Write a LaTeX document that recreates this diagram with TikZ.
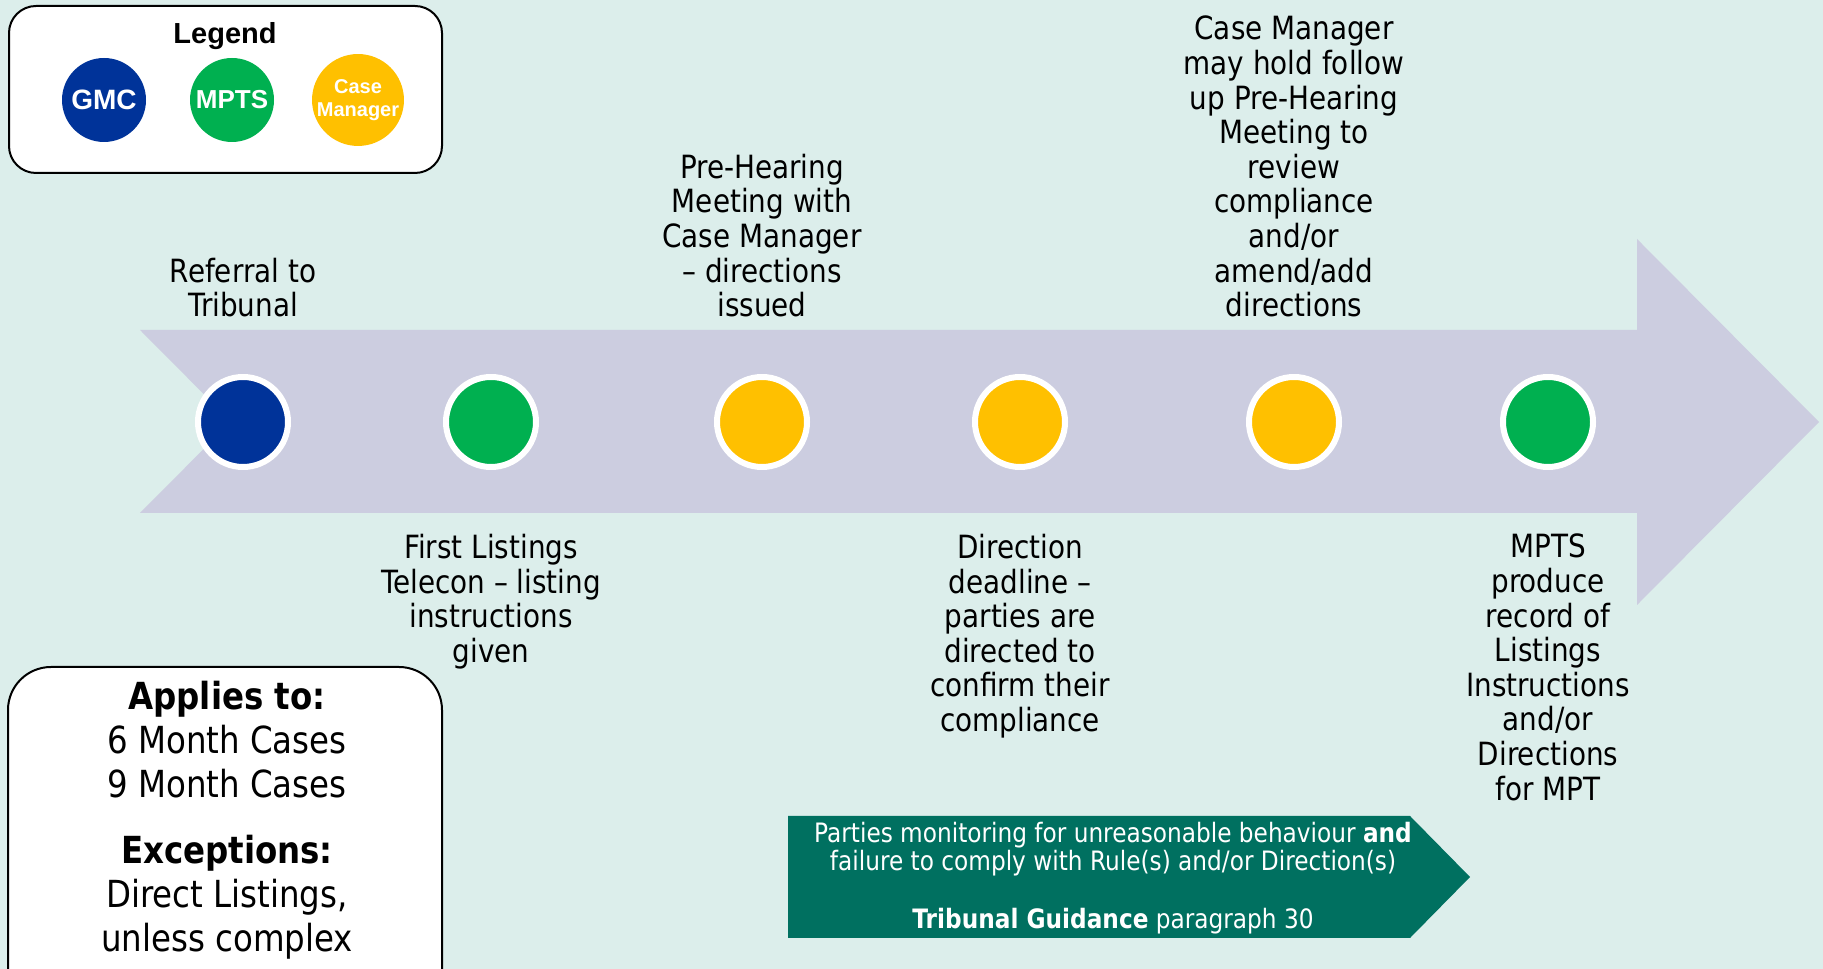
\documentclass[tikz,border=0pt]{standalone}
\usepackage{fontspec}
\setmainfont{Liberation Sans}
\newfontfamily\tahoma[FakeStretch=0.87]{DejaVu Sans}
\usepackage{tikz}

\definecolor{bgteal}{RGB}{220,238,235}
\definecolor{arrowgrey}{RGB}{204,205,224}
\definecolor{gmcblue}{RGB}{0,51,153}
\definecolor{mptsgreen}{RGB}{0,176,80}
\definecolor{cmyellow}{RGB}{255,192,0}
\definecolor{boxteal}{RGB}{0,112,96}

\tikzset{
  stage/.style={circle,draw=white,line width=6pt,minimum size=90pt,inner sep=0pt},
  key/.style={circle,minimum size=84pt,inner sep=0pt,text=white,align=center},
  toplabel/.style={anchor=south,align=center,inner sep=0pt,text depth=0pt,
    font=\tahoma\fontsize{32}{34.6}\selectfont},
  bottomlabel/.style={anchor=north,align=center,inner sep=0pt,
    font=\tahoma\fontsize{32}{34.6}\selectfont}
}

\begin{document}
\begin{tikzpicture}[x=1pt,y=1pt]
\useasboundingbox (0,0) rectangle (1823,969);
\clip (0,0) rectangle (1823,969);
\fill[bgteal] (0,0) rectangle (1823,969);

% timeline arrow
\fill[arrowgrey] (140,639) -- (1637,639) -- (1637,730) -- (1819,547) -- (1637,364)
  -- (1637,456) -- (140,456) -- (231,547.5) -- cycle;

\foreach \x/\c [count=\i] in {243/gmcblue,491/mptsgreen,762/cmyellow,1020/cmyellow,1294/cmyellow,1548/mptsgreen}
  \node[stage,fill=\c] (stage\i) at (\x,547) {};

% steps above the arrow
\node[toplabel] (referral) at (243,652) {Referral to\\Tribunal};
\node[toplabel] (prehearing) at (762,652) {Pre-Hearing\\Meeting with\\Case Manager\\– directions\\issued};
\node[toplabel] (followup) at (1294,652) {Case Manager\\may hold follow\\up Pre-Hearing\\Meeting to\\review\\compliance\\and/or\\amend/add\\directions};

% steps below the arrow
\node[bottomlabel] (telecon) at (491,435) {First Listings\\Telecon – listing\\instructions\\given};
\node[bottomlabel] (deadline) at (1020,435) {Direction\\deadline –\\parties are\\directed to\\confirm their\\compliance};
\node[bottomlabel] (record) at (1548,435) {MPTS\\produce\\record of\\Listings\\Instructions\\and/or\\Directions\\for MPT};

% legend
\draw[line width=2pt,fill=white,rounded corners=27pt] (9,963) rectangle (442,796);
\node[anchor=base,font=\bfseries\fontsize{29}{34}\selectfont] (legend) at (225,925) {Legend};
\node[key,fill=gmcblue,font=\bfseries\fontsize{28}{32}\selectfont] (gmc) at (104,869) {GMC};
\node[key,fill=mptsgreen,font=\bfseries\fontsize{26}{30}\selectfont] (mpts) at (232,869) {MPTS};
\node[key,fill=cmyellow,font=\bfseries\fontsize{20}{23}\selectfont] (cm) at (358,869) {Case\\Manager};

% scope of the process
\draw[line width=2pt,fill=white,rounded corners=43pt] (8,302) rectangle (442,-60);
\node[anchor=south,align=center,inner sep=0pt,text depth=0pt,
  font=\tahoma\fontsize{37.3}{44}\selectfont] (applies) at (227,17) {\textbf{Applies to:}\\6 Month Cases\\9 Month Cases\\[22.7pt]\textbf{Exceptions:}\\Direct Listings,\\unless complex};

% monitoring banner
\fill[boxteal] (788,153) -- (1410,153) -- (1470,92) -- (1410,31) -- (788,31) -- cycle;
\node[anchor=south,align=center,inner sep=0pt,text depth=0pt,text=white,
  font=\tahoma\fontsize{26.7}{28.6}\selectfont] (monitoring) at (1113,40.7)
  {Parties monitoring for unreasonable behaviour \textbf{and}\\failure to comply with Rule(s) and/or Direction(s)\\[28.6pt]\textbf{Tribunal Guidance} paragraph 30};
\end{tikzpicture}
\end{document}
